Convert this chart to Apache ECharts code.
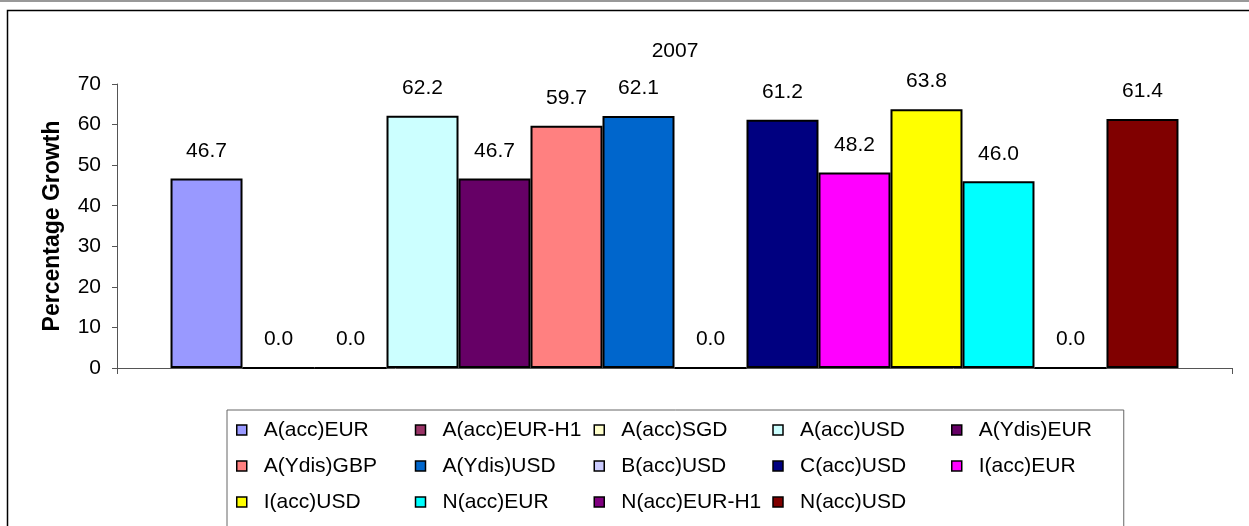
<!DOCTYPE html>
<html>
<head>
<meta charset="utf-8">
<script src="https://cdn.jsdelivr.net/npm/echarts@6/dist/echarts.min.js"></script>
<style>
html,body{margin:0;padding:0;background:#fff;}
#main{width:1249px;height:526px;}
</style>
</head>
<body>
<div id="main"></div>
<script>
// 数据
var years = ['2007'];
var seriesNames = ['A(acc)EUR','A(acc)EUR-H1','A(acc)SGD','A(acc)USD','A(Ydis)EUR',
    'A(Ydis)GBP','A(Ydis)USD','B(acc)USD','C(acc)USD','I(acc)EUR',
    'I(acc)USD','N(acc)EUR','N(acc)EUR-H1','N(acc)USD'];
var growth = [46.7, 0.0, 0.0, 62.2, 46.7, 59.7, 62.1, 0.0, 61.2, 48.2, 63.8, 46.0, 0.0, 61.4];
var colors = ['#9999FF','#993366','#FFFFCC','#CCFFFF','#660066',
    '#FF8080','#0066CC','#CCCCFF','#000080','#FF00FF',
    '#FFFF00','#00FFFF','#800080','#800000'];
var yTicks = {min: 0, max: 70, step: 10};

var font = 'Liberation Sans, Arial, sans-serif';
var chart = echarts.init(document.getElementById('main'));

var series = [];
for (var i = 0; i < seriesNames.length; i++) {
    series.push({
        name: seriesNames[i],
        type: 'bar',
        data: [growth[i]],
        barGap: '0%',
        barCategoryGap: '9.6%',
        itemStyle: {color: colors[i], borderColor: '#000', borderWidth: 2},
        label: {
            show: true,
            position: 'top',
            distance: 17,
            color: '#000',
            fontFamily: font,
            fontSize: 21,
            formatter: function(p){ return p.value.toFixed(1); }
        }
    });
}

var option = {
    animation: false,
    color: colors,
    title: {
        text: years[0],
        left: 670,
        top: 36,
        textAlign: 'center',
        textStyle: {fontFamily: font, fontSize: 21, fontWeight: 'normal', color: '#000'}
    },
    graphic: [
        {type: 'rect', shape: {x: 0, y: 0, width: 1249, height: 2}, style: {fill: '#999'}},
        {type: 'rect', shape: {x: 7.5, y: 10.5, width: 1400, height: 700}, style: {fill: null, stroke: '#000', lineWidth: 1.5}, z: -1}
    ],
    grid: {left: 117, right: 17, top: 84, bottom: 158},
    xAxis: {
        type: 'category',
        data: years,
        axisLine: {lineStyle: {color: '#555', width: 1}},
        axisTick: {show: true, length: 6, lineStyle: {color: '#555'}},
        axisLabel: {show: false}
    },
    yAxis: {
        type: 'value',
        min: yTicks.min,
        max: yTicks.max,
        interval: yTicks.step,
        name: 'Percentage Growth',
        nameLocation: 'middle',
        nameGap: 53,
        nameTextStyle: {fontFamily: font, fontSize: 23, fontWeight: 'bold', color: '#000'},
        axisLine: {show: true, lineStyle: {color: '#555', width: 1}},
        axisTick: {show: true, length: 5, lineStyle: {color: '#555'}},
        axisLabel: {margin: 16, fontFamily: font, fontSize: 21, color: '#000'},
        splitLine: {show: false}
    },
    legend: {
        data: seriesNames,
        left: 227,
        top: 410,
        width: 885,
        padding: [7, 4, 20, 9],
        itemGap: 10,
        itemWidth: 10,
        itemHeight: 10,
        icon: 'rect',
        borderColor: '#666',
        borderWidth: 1,
        itemStyle: {borderColor: '#000', borderWidth: 1.5},
        textStyle: {
            fontFamily: font,
            fontSize: 21,
            color: '#000',
            width: 141,
            lineHeight: 26,
            padding: [0, 0, 0, 12]
        }
    },
    series: series
};

chart.setOption(option);
</script>
</body>
</html>
